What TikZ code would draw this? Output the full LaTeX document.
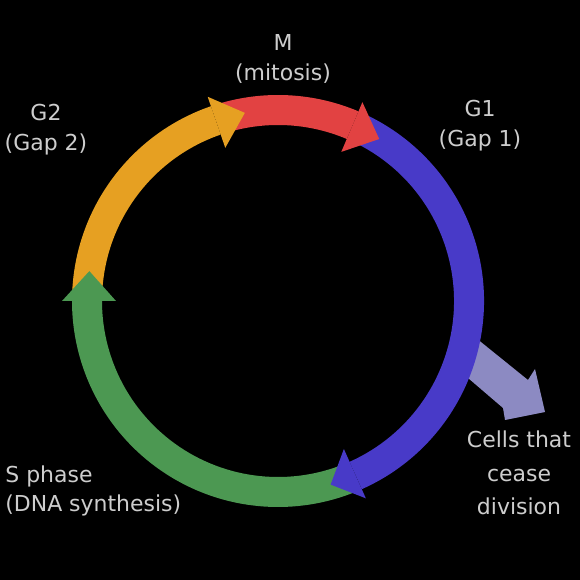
\documentclass[tikz,border=0pt]{standalone}
\usepackage{fontspec}
\setmainfont{DejaVu Sans}
\usepackage{xcolor}
\usepackage{tikz}

\definecolor{labelgray}{RGB}{205,205,205}
\definecolor{mcol}{RGB}{226,66,66}
\definecolor{gonecol}{RGB}{72,58,200}
\definecolor{scol}{RGB}{76,152,82}
\definecolor{gtwocol}{RGB}{230,160,34}
\definecolor{exitcol}{RGB}{140,138,194}

% band of the ring (color, start angle, head base angle)
\newcommand{\phaseband}[3]{\fill[#1] (#2:176) arc[start angle=#2,end angle=#3,radius=176] -- (#3:206) arc[start angle=#3,end angle=#2,radius=206] -- cycle;}
% arrow head (color, base angle, tip angle)
\newcommand{\phasehead}[3]{\fill[#1] (#2:162) -- (#2:216) -- (#3:191) -- cycle;}

\begin{document}
\begin{tikzpicture}[x=0.2mm,y=0.2mm,
  lbl/.style={text=labelgray,align=center,inner sep=0pt,font=\fontsize{12.5}{17}\selectfont}]
\fill[black] (-278,-279) rectangle (302,301);
\useasboundingbox (-278,-279) rectangle (302,301);
% exit arrow
\fill[exitcol] (193,-33) -- (250,-79) -- (257,-68) -- (267,-111) -- (227,-119) -- (225,-107) -- (183,-71) -- cycle;
% ring
\phaseband{gtwocol}{178}{109}
\phaseband{mcol}{107}{67}
\phaseband{gonecol}{65}{-66}
\phaseband{scol}{-68}{-180}
\phasehead{gtwocol}{109}{100}
\phasehead{mcol}{67}{58}
\phasehead{gonecol}{-66}{-74}
\phasehead{scol}{-180}{-189}
% labels
\node[lbl] (mlbl) at (5,242) {M\\(mitosis)};
\node[lbl] (gtwolbl) at (-232,171) {G2\\(Gap 2)};
\node[lbl] (gonelbl) at (202,175) {G1\\(Gap 1)};
\node[lbl,align=left,anchor=west] (slbl) at (-273,-190) {S phase\\(DNA synthesis)};
\node[lbl,font=\fontsize{12.5}{19}\selectfont] (cellslbl) at (241,-172) {Cells that\\cease\\division};
\end{tikzpicture}
\end{document}
